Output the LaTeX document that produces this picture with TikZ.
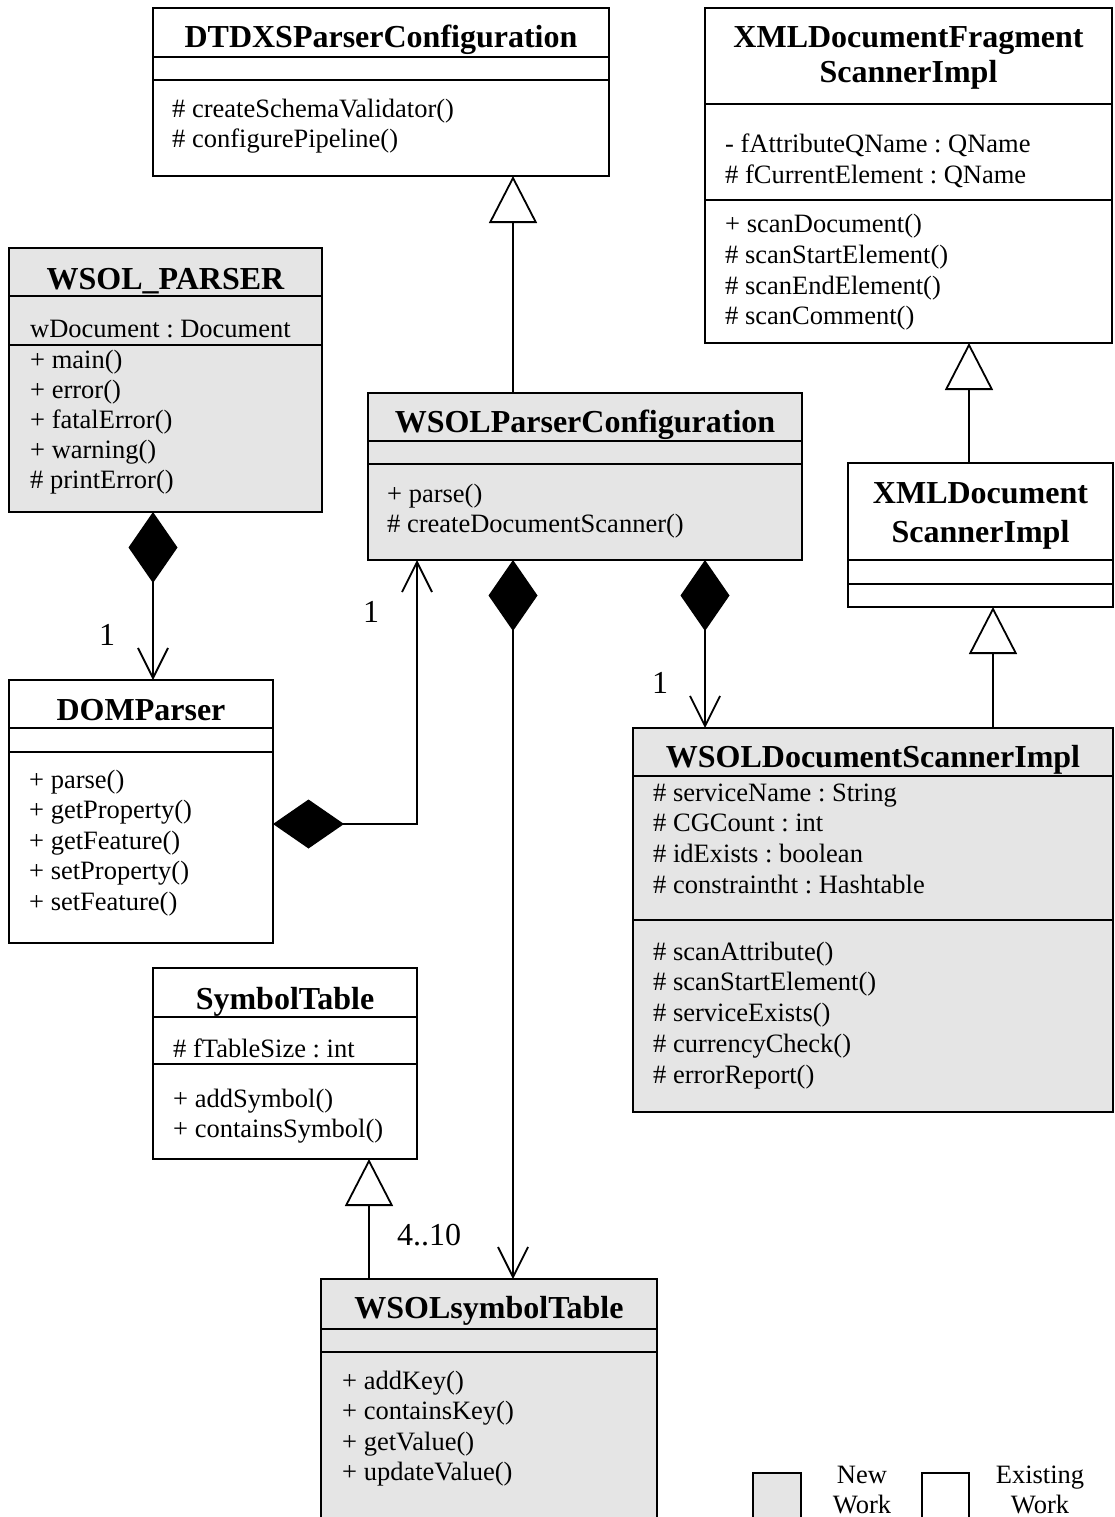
\documentclass[tikz,border=0pt]{standalone}
\usepackage{fontspec}
\setmainfont{Liberation Serif}
\usetikzlibrary{arrows.meta}
\frenchspacing
\newcommand\clsfont{\fontsize{32}{36}\selectfont\bfseries}
\newcommand\mbrfont{\fontsize{26.5}{30.5}\selectfont}
\newcommand\lblfont{\fontsize{32}{36}\selectfont}
\begin{document}
\begin{tikzpicture}[x=1pt,y=-1pt,
  umlbox/.style={draw, line width=1.8pt, rectangle, inner sep=0pt, outer sep=0pt, anchor=north west},
  newwork/.style={umlbox, fill=black!10},
  oldwork/.style={umlbox, fill=white},
  clsname/.style={font=\clsfont, anchor=base, inner sep=0pt},
  member/.style={font=\mbrfont, anchor=base west, inner sep=0pt},
  legendtext/.style={font=\mbrfont, anchor=base, inner sep=0pt},
  mult/.style={font=\lblfont, anchor=base, inner sep=0pt},
  divider/.style={line width=1.8pt},
  conn/.style={line width=1.8pt},
  inherit/.style={conn, -{Triangle[length=47pt,width=48pt,fill=white]}},
  owns/.style={conn, {Diamond[length=71pt,width=49pt]}-{Straight Barb[length=30pt,width=30pt]}}
]
\useasboundingbox (0,0) rectangle (1115,1517);
\fill[white] (0,0) rectangle (1115,1517);
\clip (0,0) rectangle (1115,1517);

% ---------- DTDXSParserConfiguration ----------
\node[oldwork, minimum width=456pt, minimum height=168pt] (dtdxs) at (153,8) {};
\draw[divider] (153,57) -- (609,57);
\draw[divider] (153,80) -- (609,80);
\node[clsname] (dtdxs-t) at (381,48) {DTDXSParserConfiguration};
\foreach \yy/\txt [count=\k] in {118/\# createSchemaValidator(), 148/\# configurePipeline()}
  \node[member] (dtdxs-m\k) at (172,\yy) {\txt};

% ---------- XMLDocumentFragmentScannerImpl ----------
\node[oldwork, minimum width=407pt, minimum height=335pt] (xmlfrag) at (705,8) {};
\draw[divider] (705,104) -- (1112,104);
\draw[divider] (705,200) -- (1112,200);
\node[clsname] (xmlfrag-t1) at (908.5,48) {XMLDocumentFragment};
\node[clsname] (xmlfrag-t2) at (908.5,83) {ScannerImpl};
\foreach \yy/\txt [count=\k] in {153/- fAttributeQName : QName, 184/\# fCurrentElement : QName,
    233/+ scanDocument(), 263/\# scanStartElement(), 294/\# scanEndElement(), 324/\# scanComment()}
  \node[member] (xmlfrag-m\k) at (725,\yy) {\txt};

% ---------- WSOL_PARSER ----------
\node[newwork, minimum width=313pt, minimum height=264pt] (wsolparser) at (9,248) {};
\draw[divider] (9,296) -- (322,296);
\draw[divider] (9,345) -- (322,345);
\node[clsname] (wsolparser-t) at (165.5,289) {WSOL\_PARSER};
\foreach \yy/\txt [count=\k] in {337/wDocument : Document, 368/+ main(), 398/+ error(),
    428/+ fatalError(), 458/+ warning(), 488/\# printError()}
  \node[member] (wsolparser-m\k) at (30,\yy) {\txt};

% ---------- WSOLParserConfiguration ----------
\node[newwork, minimum width=434pt, minimum height=167pt] (wsolpc) at (368,393) {};
\draw[divider] (368,441) -- (802,441);
\draw[divider] (368,464) -- (802,464);
\node[clsname] (wsolpc-t) at (585,432) {WSOLParserConfiguration};
\foreach \yy/\txt [count=\k] in {502/+ parse(), 532/\# createDocumentScanner()}
  \node[member] (wsolpc-m\k) at (387,\yy) {\txt};

% ---------- XMLDocumentScannerImpl ----------
\node[oldwork, minimum width=265pt, minimum height=144pt] (xmlds) at (848,463) {};
\draw[divider] (848,560) -- (1113,560);
\draw[divider] (848,584) -- (1113,584);
\node[clsname] (xmlds-t1) at (980.5,503) {XMLDocument};
\node[clsname] (xmlds-t2) at (980.5,542) {ScannerImpl};

% ---------- DOMParser ----------
\node[oldwork, minimum width=264pt, minimum height=263pt] (dom) at (9,680) {};
\draw[divider] (9,728) -- (273,728);
\draw[divider] (9,752) -- (273,752);
\node[clsname] (dom-t) at (141,720) {DOMParser};
\foreach \yy/\txt [count=\k] in {788/+ parse(), 818/+ getProperty(), 849/+ getFeature(),
    879/+ setProperty(), 910/+ setFeature()}
  \node[member] (dom-m\k) at (29,\yy) {\txt};

% ---------- WSOLDocumentScannerImpl ----------
\node[newwork, minimum width=480pt, minimum height=384pt] (wsolds) at (633,728) {};
\draw[divider] (633,776) -- (1113,776);
\draw[divider] (633,920) -- (1113,920);
\node[clsname] (wsolds-t) at (873,767) {WSOLDocumentScannerImpl};
\foreach \yy/\txt [count=\k] in {801/\# serviceName : String, 831/\# CGCount : int,
    862/\# idExists : boolean, 893/\# constraintht : Hashtable,
    960/\# scanAttribute(), 990/\# scanStartElement(), 1021/\# serviceExists(),
    1052/\# currencyCheck(), 1083/\# errorReport()}
  \node[member] (wsolds-m\k) at (653,\yy) {\txt};

% ---------- SymbolTable ----------
\node[oldwork, minimum width=264pt, minimum height=191pt] (symtab) at (153,968) {};
\draw[divider] (153,1017) -- (417,1017);
\draw[divider] (153,1064) -- (417,1064);
\node[clsname] (symtab-t) at (285,1009) {SymbolTable};
\foreach \yy/\txt [count=\k] in {1057/\# fTableSize : int, 1107/+ addSymbol(), 1137/+ containsSymbol()}
  \node[member] (symtab-m\k) at (173,\yy) {\txt};

% ---------- WSOLsymbolTable ----------
\node[newwork, minimum width=336pt, minimum height=270pt] (wsolst) at (321,1279) {};
\draw[divider] (321,1329) -- (657,1329);
\draw[divider] (321,1352) -- (657,1352);
\node[clsname] (wsolst-t) at (489,1318) {WSOLsymbolTable};
\foreach \yy/\txt [count=\k] in {1389/+ addKey(), 1419/+ containsKey(), 1450/+ getValue(), 1480/+ updateValue()}
  \node[member] (wsolst-m\k) at (342,\yy) {\txt};

% ---------- legend ----------
\node[newwork, minimum width=48pt, minimum height=80pt] (legnew) at (753,1473) {};
\node[oldwork, minimum width=47pt, minimum height=80pt] (legold) at (922,1473) {};
\node[legendtext] (legnew-1) at (862,1483) {New};
\node[legendtext] (legnew-2) at (862,1513) {Work};
\node[legendtext] (legold-1) at (1040,1483) {Existing};
\node[legendtext] (legold-2) at (1040,1513) {Work};

% ---------- generalizations ----------
\draw[inherit] ([xshift=-72pt]wsolpc.north) -- ([xshift=132pt]dtdxs.south);
\draw[inherit] ([xshift=-11.5pt]xmlds.north) -- ([xshift=60.5pt]xmlfrag.south);
\draw[inherit] ([xshift=120pt]wsolds.north) -- ([xshift=12.5pt]xmlds.south);
\draw[inherit] ([xshift=-120pt]wsolst.north) -- ([xshift=84pt]symtab.south);

% ---------- compositions ----------
\draw[owns] ([xshift=-12.5pt]wsolparser.south) -- ([xshift=12pt]dom.north);
\draw[owns] ([yshift=-12.5pt]dom.east) -| ([xshift=-168pt]wsolpc.south);
\draw[owns] ([xshift=-72pt]wsolpc.south) -- ([xshift=24pt]wsolst.north);
\draw[owns] ([xshift=120pt]wsolpc.south) -- ([xshift=-168pt]wsolds.north);

% ---------- multiplicities ----------
\node[mult] (mult-dom) at (107,645) {1};
\node[mult] (mult-pc) at (371,622) {1};
\node[mult] (mult-ds) at (660,693) {1};
\node[mult] (mult-st) at (429,1245) {4..10};
\end{tikzpicture}
\end{document}
